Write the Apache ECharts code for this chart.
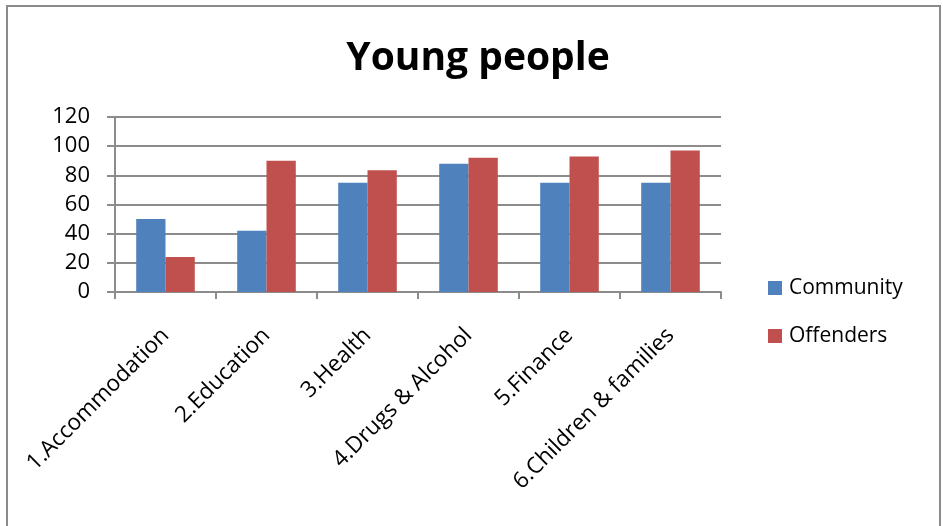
<!DOCTYPE html>
<html>
<head>
<meta charset="utf-8">
<script src="https://cdn.jsdelivr.net/npm/echarts@6/dist/echarts.min.js"></script>
<style>
  html, body { margin: 0; padding: 0; background: #fff; }
  #frame { position: absolute; left: 6px; top: 5px; width: 935px; height: 530px;
           border: 2px solid #8a8a8a; border-bottom: none; box-sizing: border-box; }
  #chart { position: absolute; left: 0; top: 0; width: 943px; height: 526px; }
</style>
</head>
<body>
<div id="frame"></div>
<div id="chart"></div>
<script>
const categories = ['1.Accommodation', '2.Education', '3.Health', '4.Drugs & Alcohol', '5.Finance', '6.Children & families'];
const community = [50, 42, 75, 88, 75, 75];
const offenders = [24, 90, 83.5, 92, 93, 97];
const yTicks = { min: 0, max: 120, interval: 20 };

const font = '"Open Sans", "Noto Sans", sans-serif';
const gridGray = '#8c8c8c';

const chart = echarts.init(document.getElementById('chart'), null, { renderer: 'canvas' });
chart.setOption({
  animation: false,
  title: {
    text: 'Young people',
    left: 473, top: 34, textAlign: 'center',
    textStyle: { fontFamily: font, fontWeight: 'bold', fontSize: 39, color: '#000' }
  },
  legend: {
    orient: 'vertical',
    left: 763, top: 272,
    itemWidth: 14, itemHeight: 14, itemGap: 26,
    icon: 'rect',
    textStyle: { fontFamily: font, fontSize: 21, lineHeight: 22, color: '#000', padding: [0, 0, 0, 2] },
    data: ['Community', 'Offenders']
  },
  grid: { left: 115, right: 222, top: 117, bottom: 234, containLabel: false },
  xAxis: {
    type: 'category',
    data: categories,
    axisLine: { lineStyle: { color: gridGray, width: 2 } },
    axisTick: { show: true, length: 7, lineStyle: { color: gridGray, width: 2 } },
    axisLabel: { rotate: 45, interval: 0, margin: 40, fontFamily: font, fontSize: 22.5, color: '#000' }
  },
  yAxis: {
    type: 'value',
    min: yTicks.min, max: yTicks.max, interval: yTicks.interval,
    axisLine: { show: true, lineStyle: { color: gridGray, width: 2 } },
    axisTick: { show: true, length: 8, lineStyle: { color: gridGray, width: 2 } },
    splitLine: { lineStyle: { color: gridGray, width: 2 } },
    axisLabel: { margin: 25, fontFamily: font, fontSize: 22, color: '#000' }
  },
  series: [
    { name: 'Community', type: 'bar', data: community, barGap: '0%', barCategoryGap: '42%',
      itemStyle: { color: '#4F81BD' } },
    { name: 'Offenders', type: 'bar', data: offenders, barGap: '0%', barCategoryGap: '42%',
      itemStyle: { color: '#C0504D' } }
  ]
});
</script>
</body>
</html>
